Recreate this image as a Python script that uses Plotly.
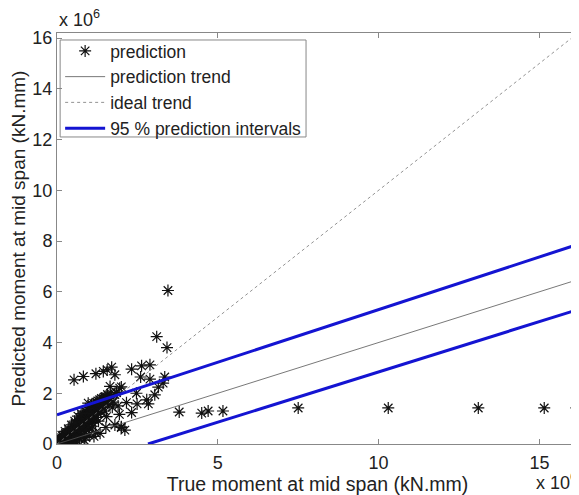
import plotly.graph_objects as go

# scatter data (units of 1e6 kN.mm)
cluster_x = [0.02, 0.04, 0.05, 0.07, 0.08, 0.10, 0.12, 0.13, 0.15, 0.17, 0.18, 0.20,
             0.22, 0.24, 0.25, 0.27, 0.30, 0.32, 0.33, 0.35, 0.37, 0.40, 0.42, 0.44,
             0.45, 0.48, 0.50, 0.52, 0.55, 0.57, 0.60,
             0.62, 0.65, 0.68, 0.70, 0.72, 0.75, 0.78, 0.80, 0.82, 0.85, 0.88, 0.90,
             0.92, 0.95, 0.98, 1.00, 1.03, 1.05, 1.08, 1.10, 1.12, 1.15, 1.18, 1.20,
             1.22, 1.25, 1.28, 1.30,
             0.90, 1.00, 1.15, 0.70, 0.50, 1.34, 1.52, 0.30, 0.60, 0.85,
             1.35, 1.40, 1.45, 1.50, 1.55, 1.60, 1.65, 1.70, 1.75, 1.80, 1.85, 1.90,
             1.95, 2.00,
             0.03, 0.06, 0.09, 0.11, 0.14, 0.16, 0.19, 0.21, 0.23, 0.26, 0.28, 0.29,
             0.31, 0.34, 0.36, 0.38, 0.39, 0.41, 0.43, 0.46, 0.47, 0.49, 0.51, 0.53,
             0.54, 0.56, 0.58, 0.59, 0.61, 0.63, 0.64, 0.66, 0.67, 0.69, 0.71, 0.73,
             0.74, 0.76, 0.77, 0.79, 0.81, 0.83, 0.84, 0.86, 0.87, 0.89, 0.91, 0.93,
             0.94, 0.96, 0.97, 0.99, 1.01, 1.02, 1.04, 1.06, 1.07, 1.09, 1.11, 1.13,
             1.14, 1.16, 1.19, 1.21, 1.23, 1.26, 1.27, 1.29, 1.32, 1.33, 1.36, 1.38,
             1.42, 1.47, 1.49, 1.53, 1.57, 1.62, 1.67, 1.72,
             0.15, 0.25, 0.35, 0.45, 0.55, 0.65, 0.75, 0.97, 0.56]
cluster_y = [0.03, 0.10, 0.02, 0.15, 0.06, 0.20, 0.05, 0.12, 0.25, 0.10, 0.30, 0.15,
             0.35, 0.08, 0.22, 0.40, 0.28, 0.18, 0.45, 0.32, 0.12, 0.50, 0.38, 0.25,
             0.55, 0.42, 0.30, 0.60, 0.48, 0.20, 0.65,
             0.72, 0.55, 0.85, 0.40, 0.70, 0.95, 0.62, 0.80, 1.05, 0.50, 0.90, 1.10,
             0.75, 1.20, 0.95, 0.60, 1.25, 1.05, 1.40, 0.85, 1.30, 1.15, 1.50, 0.45,
             1.35, 1.55, 1.20, 1.60,
             0.25, 0.35, 0.30, 0.20, 0.05, 0.42, 0.65, 0.02, 0.08, 0.15,
             1.70, 1.45, 1.75, 1.60, 1.85, 1.70, 1.80, 1.90, 1.65, 1.95, 2.03, 1.50,
             2.20, 2.25,
             0.05, 0.02, 0.12, 0.08, 0.18, 0.05, 0.22, 0.10, 0.28, 0.12, 0.33, 0.20,
             0.38, 0.25, 0.15, 0.42, 0.30, 0.22, 0.48, 0.35, 0.55, 0.18, 0.45, 0.62,
             0.35, 0.70, 0.52, 0.40, 0.80, 0.60, 0.30, 0.90, 0.68, 0.50, 0.85, 1.00,
             0.58, 0.75, 0.29, 1.10, 0.90, 0.65, 1.15, 0.80, 1.30, 1.00, 0.55, 1.25,
             0.95, 1.35, 0.70, 1.15, 1.45, 0.85, 1.35, 1.00, 1.55, 1.20, 0.70, 1.45,
             1.60, 0.95, 1.40, 1.65, 1.05, 1.50, 1.70, 0.90, 1.55, 1.75, 1.25, 1.80,
             1.60, 1.85, 1.30, 1.75, 1.95, 1.55, 2.00, 1.45,
             0.35, 0.50, 0.60, 0.75, 0.90, 1.10, 1.20, 1.61, 0.83]

outlier_x = [1.80, 2.00, 1.54, 2.11, 1.65, 1.52, 1.85, 2.16, 2.32, 1.94, 2.00, 2.47,
             2.49, 2.79, 2.84, 3.04, 3.15, 3.30, 3.35, 2.60, 2.89,
             0.53, 0.82, 1.21, 1.44, 1.56, 1.70, 1.80, 2.32, 2.63, 2.89,
             3.10, 3.42, 3.45, 3.80, 4.50, 4.70, 5.16,
             7.50, 10.30, 13.10, 15.15, 16.15]
outlier_y = [0.75, 0.68, 1.08, 0.55, 2.27, 1.87, 2.03, 1.63, 1.24, 1.17, 0.65, 2.00,
             1.58, 1.74, 1.58, 1.94, 2.24, 2.40, 2.64, 2.64, 2.56,
             2.53, 2.66, 2.77, 2.86, 2.92, 3.03, 2.73, 2.95, 3.08, 3.12,
             4.23, 3.80, 6.05, 1.26, 1.22, 1.30, 1.30,
             1.42, 1.42, 1.42, 1.42, 1.42]

pred_x = cluster_x + outlier_x
pred_y = cluster_y + outlier_y

line_x = [0.0, 16.2]
trend_y = [0.0, 6.48]
ideal_y = [0.0, 16.2]
upper_y = [1.15, 7.87]
lower_x = [2.83, 16.2]
lower_y = [0.0, 5.30]

ticks_x = [0, 5, 10, 15]
ticks_y = [0, 2, 4, 6, 8, 10, 12, 14, 16]

fig = go.Figure()
fig.add_trace(go.Scatter(
    x=pred_x, y=pred_y, mode="markers", name="prediction",
    marker=dict(symbol="asterisk-open", size=10, color="#111",
                line=dict(color="#111", width=1.2))
))
fig.add_trace(go.Scatter(
    x=line_x, y=trend_y, mode="lines", name="prediction trend",
    line=dict(color="#555", width=0.8)
))
fig.add_trace(go.Scatter(
    x=line_x, y=ideal_y, mode="lines", name="ideal trend",
    line=dict(color="#777", width=0.8, dash="dot")
))
fig.add_trace(go.Scatter(
    x=line_x, y=upper_y, mode="lines", name="95 % prediction intervals",
    line=dict(color="#1414d2", width=3)
))
fig.add_trace(go.Scatter(
    x=lower_x, y=lower_y, mode="lines", showlegend=False,
    line=dict(color="#1414d2", width=3)
))

axis_common = dict(
    showgrid=False, zeroline=False, showline=True, linecolor="#888",
    linewidth=1, mirror="ticks", ticks="inside", ticklen=5, tickcolor="#888",
    tickfont=dict(size=18, color="#222"), automargin=False,
)

# page body has an 8px default margin, so the figure is 8px smaller
fig.update_layout(
    width=571, height=487,
    margin=dict(l=49, r=1, t=25, b=51),
    paper_bgcolor="white", plot_bgcolor="white",
    font=dict(family="Liberation Sans, Arial, sans-serif", color="#222"),
    xaxis=dict(range=[0, 16.2], tickvals=ticks_x, ticklabelstandoff=2,
               title=dict(text="True moment at mid span (kN.mm)",
                          font=dict(size=19.5), standoff=4),
               **axis_common),
    yaxis=dict(range=[0, 16.2], tickvals=ticks_y,
               title=dict(text="Predicted moment at mid span (kN.mm)",
                          font=dict(size=19), standoff=3),
               **axis_common),
    legend=dict(x=0.006, y=1.0, xanchor="left", yanchor="top",
                bgcolor="rgba(0,0,0,0)", borderwidth=0,
                font=dict(size=17.5, color="#222"), tracegroupgap=0,
                itemwidth=40),
    showlegend=True,
    shapes=[
        # legend box
        dict(type="rect", xref="paper", yref="paper",
             x0=0.006, x1=0.478, y0=0.747, y1=0.983,
             line=dict(color="#888", width=1), fillcolor="white",
             layer="below"),
    ],
    annotations=[
        dict(text="x 10<sup>6</sup>", xref="paper", yref="paper",
             x=0.0, y=1.0, xanchor="left", yanchor="bottom", yshift=1,
             showarrow=False, font=dict(size=18, color="#222")),
        dict(text="x 10<sup>6</sup>", xref="paper", yref="paper",
             x=1.0, y=0.0, xanchor="right", yanchor="bottom", yshift=-51,
             xshift=1, showarrow=False, font=dict(size=18, color="#222")),
    ],
)

fig.write_html("out.html")
